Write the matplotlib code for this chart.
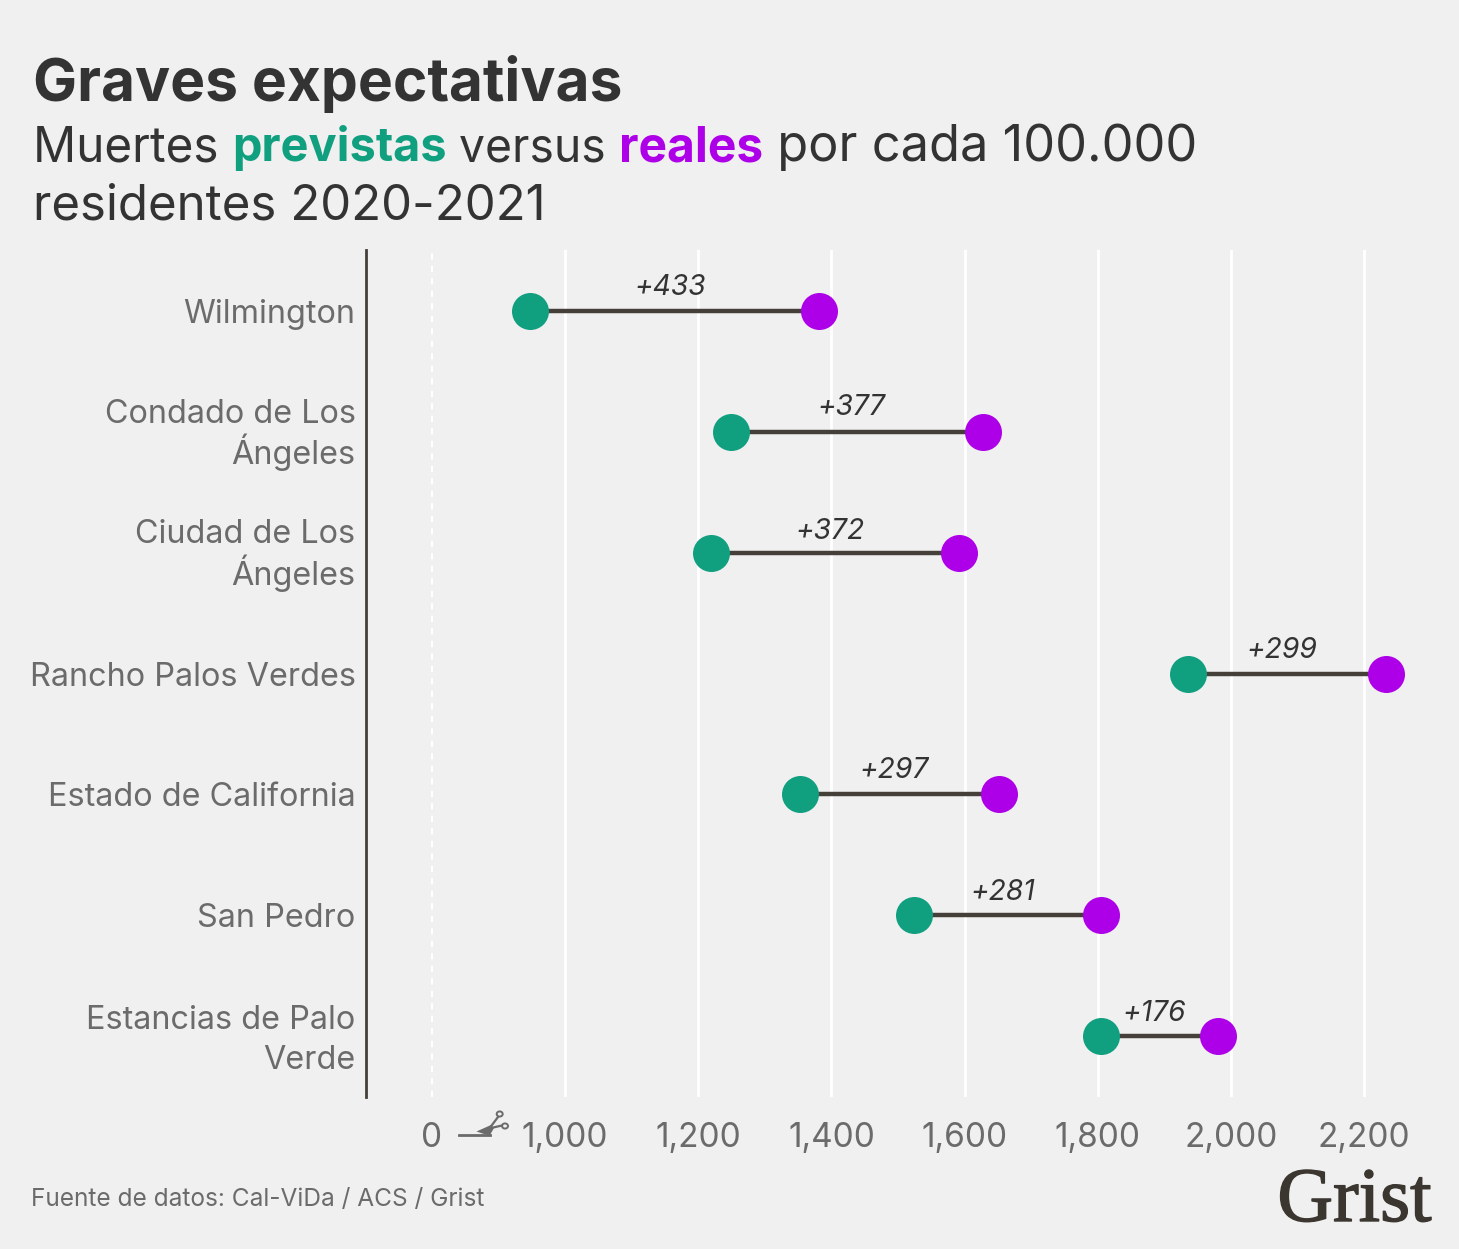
import matplotlib
matplotlib.use('Agg')
import matplotlib.pyplot as plt
import matplotlib.patheffects as pe
from matplotlib.patches import Circle, Polygon
from matplotlib.transforms import ScaledTranslation

W, H = 1459, 1249

places = ['Wilmington', 'Condado de Los\nÁngeles', 'Ciudad de Los\nÁngeles', 'Rancho Palos Verdes',
          'Estado de California', 'San Pedro', 'Estancias de Palo\nVerde']
expected = [948, 1249, 1219, 1935, 1353, 1524, 1805]
actual = [1382, 1627, 1591, 2233, 1651, 1805, 1981]
diff_labels = ['+433', '+377', '+372', '+299', '+297', '+281', '+176']
# axis is cut: the 0 tick sits where 800 would be
tick_pos = [800, 1000, 1200, 1400, 1600, 1800, 2000, 2200]
tick_labels = ['0', '1,000', '1,200', '1,400', '1,600', '1,800', '2,000', '2,200']

bg = '#f0f0f0'
green = '#11a07f'
purple = '#ae00e8'
dark = '#333333'
grey = '#6b6b6b'
line_col = '#453f3a'

plt.rcParams['font.family'] = ['Inter', 'DejaVu Sans']

fig = plt.figure(figsize=(W / 100, H / 100), dpi=100, facecolor=bg)
ax = fig.add_axes([366 / W, 1 - 1097 / H, (1420 - 366) / W, (1097 - 250) / H], facecolor=bg)


def px_text(x, y, s, **kw):
    return fig.text(x / W, 1 - y / H, s, **kw)


def fx(x, y):
    return (x / W, 1 - y / H)


ax.set_xlim(701, 2284)
ax.set_ylim(6.505, -0.505)

for t in tick_pos[1:]:
    ax.axvline(t, color='white', lw=2, zorder=1)
ax.axvline(tick_pos[0], color='white', lw=1.5, ls=(0, (3, 3)), zorder=1)

# rise of the difference labels above their line differs a little per row
rises = [7.2, 7.6, 5.6, 7.0, 7.6, 6.4, 6.4]
for i in range(len(places)):
    ax.plot([expected[i], actual[i]], [i, i], color=line_col, lw=3.2, zorder=2)
    ax.annotate(diff_labels[i], ((expected[i] + actual[i]) / 2, i), xytext=(-3.6, rises[i]), textcoords='offset points',
                ha='center', va='bottom', fontsize=20.3, style='italic', color=dark, zorder=4)
ax.scatter(expected, range(len(places)), s=710, color=green, lw=0, zorder=3)
ax.scatter(actual, range(len(places)), s=710, color=purple, lw=0, zorder=3)

for s in ['top', 'right', 'bottom']:
    ax.spines[s].set_visible(False)
ax.spines['left'].set_color(line_col)
ax.spines['left'].set_linewidth(2)

ax.set_xticks(tick_pos)
ax.set_xticklabels(tick_labels, fontsize=24, color=grey)
ax.set_yticks(range(len(places)))
ax.set_yticklabels(places, fontsize=23.3, color=grey, linespacing=1.35)
ax.tick_params(length=0)
ax.tick_params(axis='x', pad=18)
ax.tick_params(axis='y', pad=7.5)

# the lines with an accent come out too far apart otherwise
for lab in ax.get_yticklabels():
    if 'Á' in lab.get_text():
        lab.set_linespacing(1.12)
        lab.set_transform(lab.get_transform() + ScaledTranslation(0, 2.5 / 100, fig.dpi_scale_trans))
    if 'Verde' in lab.get_text() and '\n' in lab.get_text():
        lab.set_transform(lab.get_transform() + ScaledTranslation(0, 3 / 100, fig.dpi_scale_trans))

# axis break mark, scissors cutting the axis
fig.add_artist(plt.Line2D(*zip(fx(459, 1135), fx(490, 1135)), color=grey, lw=2))
blade = Polygon([fx(476.5, 1131.5), fx(491, 1125), fx(494, 1128), fx(490, 1135), fx(484, 1134)],
                closed=True, transform=fig.transFigure, color=grey, lw=0)
fig.add_artist(blade)
fig.add_artist(plt.Line2D(*zip(fx(489, 1129), fx(498, 1117)), color=grey, lw=1.6))
fig.add_artist(plt.Line2D(*zip(fx(491, 1128), fx(502, 1125.5)), color=grey, lw=1.6))
for cx, cy in [(499.7, 1114), (505, 1126)]:
    fig.add_artist(Circle(fx(cx, cy), 3 / W, transform=fig.transFigure, fill=False, ec=grey, lw=1.4))

# title and subtitle
px_text(33, 78, 'Graves expectativas', fontsize=42.25, fontweight='bold', color=dark, va='center_baseline')

parts = [('Muertes ', dark, 'normal', 34.4), ('previstas', green, 'bold', 33.8), (' versus ', dark, 'normal', 33.3),
         ('reales', purple, 'bold', 34.5), (' por cada 100.000', dark, 'normal', 36.4)]
renderer = fig.canvas.get_renderer()
x = 33
for s, c, w, size in parts:
    t = px_text(x, 161, s, fontsize=size, color=c, fontweight=w, va='baseline')
    x = x + t.get_window_extent(renderer).width
px_text(33, 219, 'residentes 2020-2021', fontsize=35.4, color=dark, va='baseline')

px_text(31, 1197, 'Fuente de datos: Cal-ViDa / ACS / Grist', fontsize=17.6, color=grey, va='center_baseline')
logo = px_text(1431.5, 1221, 'Grist', fontsize=55.5, color='#3b362f', family='Liberation Serif',
               ha='right', va='baseline')
logo.set_path_effects([pe.withStroke(linewidth=1, foreground='#3b362f')])

fig.savefig('out.png', dpi=100, facecolor=bg)
